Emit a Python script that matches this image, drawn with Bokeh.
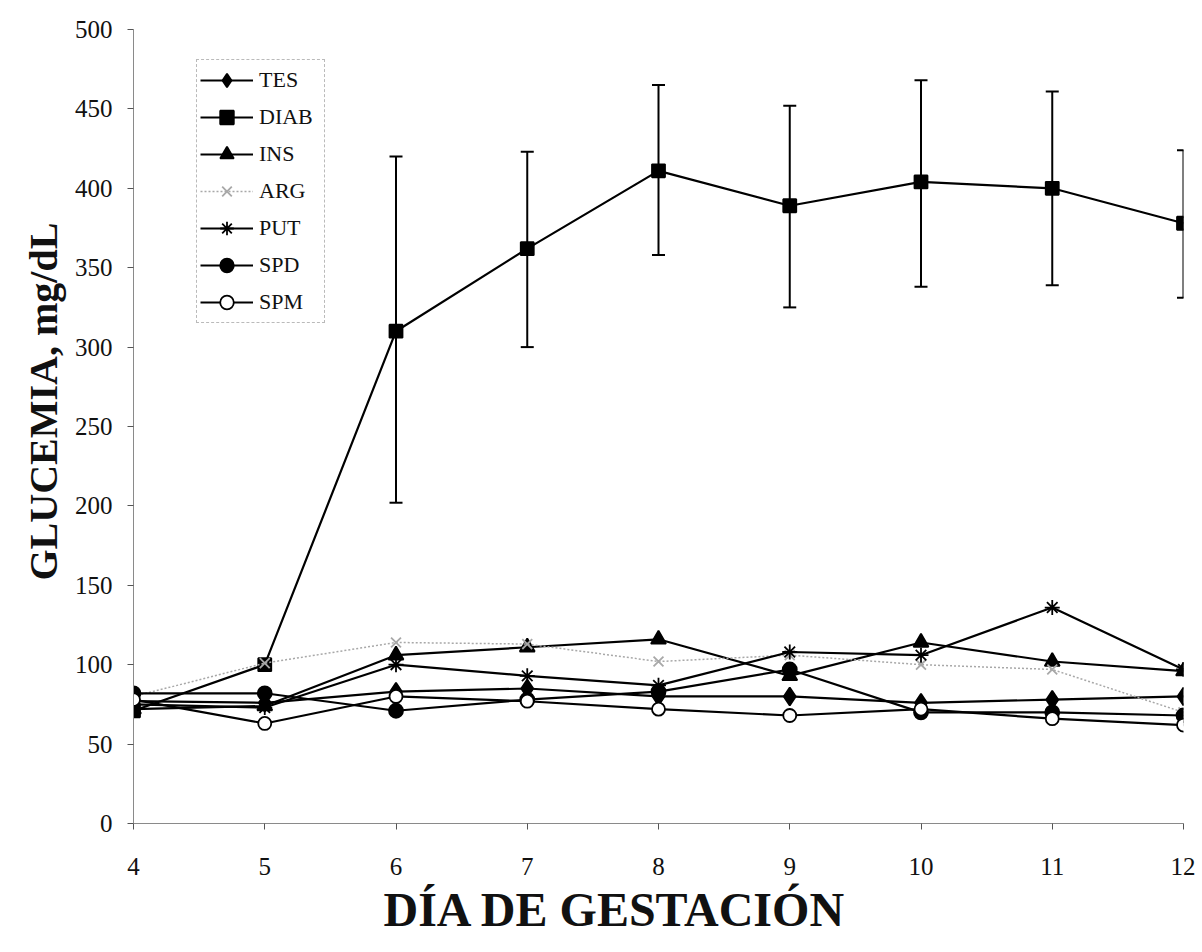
from bokeh.plotting import figure
from bokeh.models import (Range1d, Legend, LegendItem, Whisker, ColumnDataSource,
                          TeeHead, FixedTicker, Title)
from bokeh.embed import file_html
from bokeh.resources import INLINE

days = [4, 5, 6, 7, 8, 9, 10, 11, 12]
TES = [77, 76, 83, 85, 80, 80, 76, 78, 80]
DIAB = [71, 100, 310, 362, 411, 389, 404, 400, 378]
INS = [72, 74, 106, 111, 116, 93, 114, 102, 96]
ARG = [80, 101, 114, 113, 102, 106, 100, 97, 70]
PUT = [75, 73, 100, 93, 87, 108, 106, 136, 97]
SPD = [82, 82, 71, 78, 83, 97, 70, 70, 68]
SPM = [78, 63, 80, 77, 72, 68, 72, 66, 62]

err_days = [6, 7, 8, 9, 10, 11, 12]
DIAB_upper = [420, 423, 465, 452, 468, 461, 424]
DIAB_lower = [202, 300, 358, 325, 338, 339, 331]

y_ticks = [0, 50, 100, 150, 200, 250, 300, 350, 400, 450, 500]
x_ticks = days
y_title = "GLUCEMIA, mg/dL"
x_title = "DÍA DE GESTACIÓN"

FONT = "Liberation Serif"

p = figure(frame_width=1050, frame_height=794, output_backend="svg",
           toolbar_location=None, x_range=Range1d(4, 12), y_range=Range1d(0, 500),
           min_border_left=133, min_border_top=29, min_border_right=12,
           min_border_bottom=128)
p.outline_line_color = None
p.xgrid.grid_line_color = None
p.ygrid.grid_line_color = None
p.background_fill_color = "white"
p.border_fill_color = "white"

for ax in (p.xaxis[0], p.yaxis[0]):
    ax.axis_line_color = "#8a8a8a"
    ax.axis_line_width = 1
    ax.major_tick_line_color = "#555555"
    ax.major_tick_out = 6
    ax.major_tick_in = 0
    ax.minor_tick_line_color = None
    ax.major_label_text_font = FONT
    ax.major_label_text_font_size = "25px"
    ax.major_label_text_color = "#111111"

p.yaxis[0].ticker = FixedTicker(ticks=y_ticks)
p.xaxis[0].ticker = FixedTicker(ticks=x_ticks)
p.yaxis[0].major_label_standoff = 15
p.xaxis[0].major_label_standoff = 28

# axis titles as side titles (offset along the axis as in the original)
p.add_layout(Title(text=y_title, align="left", offset=243, standoff=12,
                   text_font=FONT, text_font_style="bold", text_font_size="40px",
                   text_color="#111111"), "left")
p.add_layout(Title(text=x_title, align="left", offset=250, standoff=7,
                   text_font=FONT, text_font_style="bold", text_font_size="48px",
                   text_color="#111111"), "below")

# error bars for DIAB
src = ColumnDataSource(dict(x=err_days, upper=DIAB_upper, lower=DIAB_lower))
w = Whisker(source=src, base="x", upper="upper", lower="lower",
            line_color="black", line_width=2,
            upper_head=TeeHead(size=13, line_color="black", line_width=2),
            lower_head=TeeHead(size=13, line_color="black", line_width=2))
p.add_layout(w)

series = [
    ("TES", TES, "diamond", 18, "black", "black", None),
    ("DIAB", DIAB, "square", 13, "black", "black", None),
    ("INS", INS, "triangle", 15, "black", "black", None),
    ("ARG", ARG, "x", 14, "#a8a8a8", None, "2 2"),
    ("PUT", PUT, "asterisk", 15, "black", None, None),
    ("SPD", SPD, "circle", 14, "black", "black", None),
    ("SPM", SPM, "circle", 13, "black", "white", None),
]

items = []
for name, vals, marker, size, color, fill, dash in series:
    lw = 1.5 if dash else 2.2
    if dash:
        l = p.line(days, vals, line_color=color, line_width=lw, line_dash=dash)
    else:
        l = p.line(days, vals, line_color=color, line_width=lw)
    s = p.scatter(days, vals, marker=marker, size=size, line_color=color,
                  fill_color=fill if fill else color, line_width=1.8)
    items.append(LegendItem(label=name, renderers=[l, s]))

legend = Legend(items=items, location=(63, 500))
legend.label_text_font = FONT
legend.label_text_font_size = "22px"
legend.label_text_color = "#111111"
legend.glyph_width = 53
legend.glyph_height = 34
legend.label_height = 20
legend.label_width = 62
legend.label_standoff = 6
legend.spacing = 3
legend.padding = 3
legend.margin = 0
legend.border_line_color = "#777777"
legend.border_line_width = 1
legend.border_line_dash = "3 2"
legend.background_fill_alpha = 1
p.add_layout(legend, "center")

open("out.html", "w").write(file_html(p, INLINE))
